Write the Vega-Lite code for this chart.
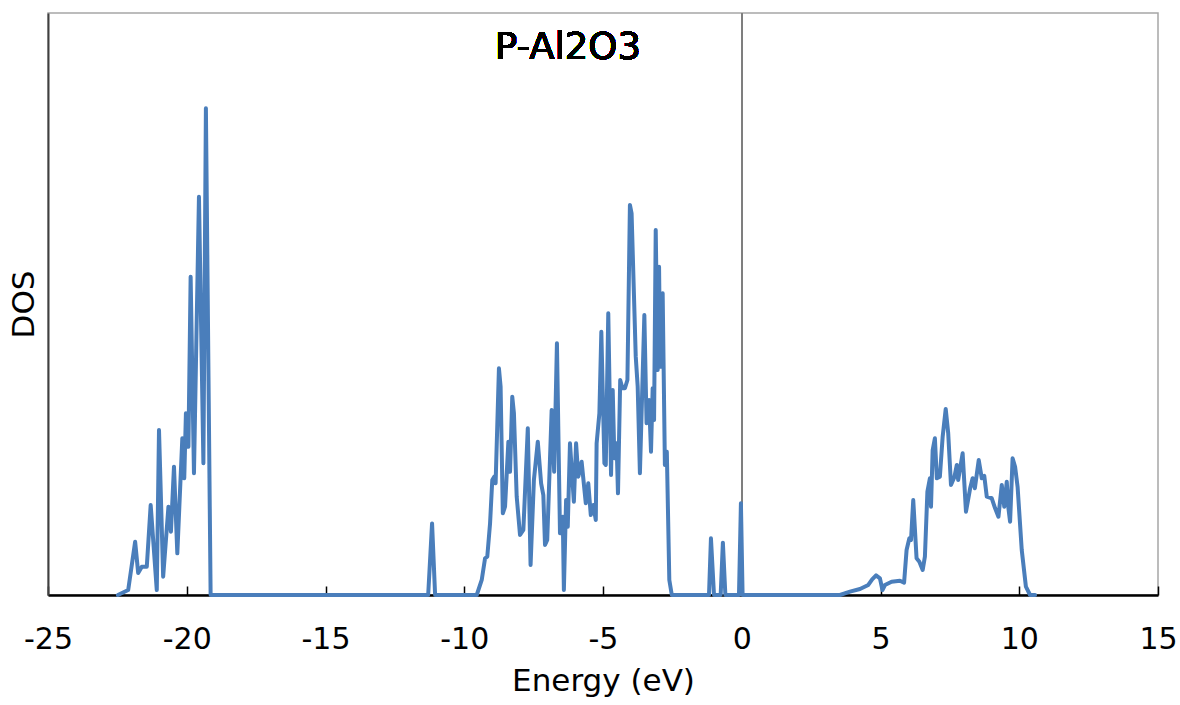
{
  "$schema": "https://vega.github.io/schema/vega-lite/v6.json",
  "width": 1110,
  "height": 582,
  "autosize": {"type": "none"},
  "padding": {"left": 48, "top": 13, "right": 22, "bottom": 110},
  "background": "white",
  "config": {
    "font": "DejaVu Sans",
    "view": {"stroke": "#a6a6a6", "strokeWidth": 1.5}
  },
  "data": {
    "values": [
      {"E": -22.48, "DOS": 0},
      {"E": -22.11, "DOS": 0.86},
      {"E": -21.86, "DOS": 9.16},
      {"E": -21.75, "DOS": 3.78},
      {"E": -21.62, "DOS": 4.86},
      {"E": -21.44, "DOS": 4.86},
      {"E": -21.30, "DOS": 15.46},
      {"E": -21.08, "DOS": 0.86},
      {"E": -21.00, "DOS": 28.35},
      {"E": -20.85, "DOS": 3.15},
      {"E": -20.66, "DOS": 15.17},
      {"E": -20.57, "DOS": 10.88},
      {"E": -20.46, "DOS": 22.05},
      {"E": -20.34, "DOS": 7.16},
      {"E": -20.16, "DOS": 26.92},
      {"E": -20.09, "DOS": 20.05},
      {"E": -20.03, "DOS": 31.22},
      {"E": -19.94, "DOS": 25.48},
      {"E": -19.86, "DOS": 54.69},
      {"E": -19.74, "DOS": 20.91},
      {"E": -19.56, "DOS": 68.44},
      {"E": -19.40, "DOS": 22.63},
      {"E": -19.31, "DOS": 83.62},
      {"E": -19.14, "DOS": 0},
      {"E": -11.30, "DOS": 0},
      {"E": -11.16, "DOS": 12.3},
      {"E": -11.05, "DOS": 0},
      {"E": -9.55, "DOS": 0},
      {"E": -9.37, "DOS": 2.58},
      {"E": -9.25, "DOS": 6.31},
      {"E": -9.17, "DOS": 6.58},
      {"E": -9.07, "DOS": 12.32},
      {"E": -8.99, "DOS": 19.76},
      {"E": -8.92, "DOS": 20.33},
      {"E": -8.87, "DOS": 19.19},
      {"E": -8.75, "DOS": 38.95},
      {"E": -8.69, "DOS": 35.79},
      {"E": -8.61, "DOS": 14.04},
      {"E": -8.53, "DOS": 15.17},
      {"E": -8.41, "DOS": 26.34},
      {"E": -8.35, "DOS": 21.19},
      {"E": -8.27, "DOS": 34.07},
      {"E": -8.21, "DOS": 31.22},
      {"E": -8.11, "DOS": 16.89},
      {"E": -7.99, "DOS": 10.31},
      {"E": -7.87, "DOS": 11.17},
      {"E": -7.71, "DOS": 28.64},
      {"E": -7.61, "DOS": 5.15},
      {"E": -7.49, "DOS": 19.76},
      {"E": -7.35, "DOS": 26.34},
      {"E": -7.23, "DOS": 19.19},
      {"E": -7.15, "DOS": 17.18},
      {"E": -7.09, "DOS": 8.59},
      {"E": -7.01, "DOS": 9.45},
      {"E": -6.85, "DOS": 31.79},
      {"E": -6.76, "DOS": 21.19},
      {"E": -6.66, "DOS": 43.25},
      {"E": -6.55, "DOS": 10.6},
      {"E": -6.45, "DOS": 13.45},
      {"E": -6.41, "DOS": 0.86},
      {"E": -6.33, "DOS": 16.32},
      {"E": -6.27, "DOS": 11.74},
      {"E": -6.19, "DOS": 26.06},
      {"E": -6.05, "DOS": 16.03},
      {"E": -5.97, "DOS": 26.06},
      {"E": -5.89, "DOS": 20.33},
      {"E": -5.77, "DOS": 22.9},
      {"E": -5.62, "DOS": 15.76},
      {"E": -5.53, "DOS": 19.19},
      {"E": -5.44, "DOS": 13.75},
      {"E": -5.35, "DOS": 15.46},
      {"E": -5.26, "DOS": 12.89},
      {"E": -5.23, "DOS": 26.06},
      {"E": -5.13, "DOS": 31.22},
      {"E": -5.06, "DOS": 45.24},
      {"E": -4.95, "DOS": 22.63},
      {"E": -4.90, "DOS": 22.34},
      {"E": -4.81, "DOS": 48.4},
      {"E": -4.71, "DOS": 20.62},
      {"E": -4.65, "DOS": 35.22},
      {"E": -4.59, "DOS": 23.49},
      {"E": -4.51, "DOS": 26.06},
      {"E": -4.46, "DOS": 17.47},
      {"E": -4.38, "DOS": 36.94},
      {"E": -4.30, "DOS": 35.52},
      {"E": -4.21, "DOS": 35.52},
      {"E": -4.12, "DOS": 36.94},
      {"E": -4.03, "DOS": 67.01},
      {"E": -3.97, "DOS": 65.58},
      {"E": -3.82, "DOS": 40.95},
      {"E": -3.75, "DOS": 35.79},
      {"E": -3.67, "DOS": 20.91},
      {"E": -3.51, "DOS": 48.11},
      {"E": -3.43, "DOS": 29.5},
      {"E": -3.34, "DOS": 33.51},
      {"E": -3.27, "DOS": 24.62},
      {"E": -3.21, "DOS": 35.52},
      {"E": -3.16, "DOS": 30.07},
      {"E": -3.10, "DOS": 62.71},
      {"E": -3.03, "DOS": 38.66},
      {"E": -2.98, "DOS": 56.41},
      {"E": -2.94, "DOS": 39.23},
      {"E": -2.85, "DOS": 51.84},
      {"E": -2.77, "DOS": 22.34},
      {"E": -2.70, "DOS": 24.62},
      {"E": -2.61, "DOS": 2.58},
      {"E": -2.52, "DOS": 0},
      {"E": -1.18, "DOS": 0},
      {"E": -1.11, "DOS": 9.74},
      {"E": -1.00, "DOS": 0},
      {"E": -0.76, "DOS": 0},
      {"E": -0.68, "DOS": 8.99},
      {"E": -0.59, "DOS": 0},
      {"E": -0.10, "DOS": 0},
      {"E": -0.03, "DOS": 15.76},
      {"E": 0.03, "DOS": 0},
      {"E": 3.54, "DOS": 0},
      {"E": 3.90, "DOS": 0.57},
      {"E": 4.26, "DOS": 1.03},
      {"E": 4.56, "DOS": 1.72},
      {"E": 4.70, "DOS": 2.7},
      {"E": 4.84, "DOS": 3.38},
      {"E": 4.98, "DOS": 2.87},
      {"E": 5.07, "DOS": 0.86},
      {"E": 5.16, "DOS": 1.72},
      {"E": 5.40, "DOS": 2.29},
      {"E": 5.70, "DOS": 2.46},
      {"E": 5.85, "DOS": 2.11},
      {"E": 5.94, "DOS": 7.73},
      {"E": 6.04, "DOS": 9.74},
      {"E": 6.10, "DOS": 9.45},
      {"E": 6.18, "DOS": 16.32},
      {"E": 6.30, "DOS": 6.31},
      {"E": 6.40, "DOS": 5.72},
      {"E": 6.52, "DOS": 4.3},
      {"E": 6.60, "DOS": 6.58},
      {"E": 6.69, "DOS": 17.75},
      {"E": 6.78, "DOS": 20.05},
      {"E": 6.82, "DOS": 15.17},
      {"E": 6.88, "DOS": 24.91},
      {"E": 6.96, "DOS": 26.92},
      {"E": 7.03, "DOS": 20.05},
      {"E": 7.14, "DOS": 20.33},
      {"E": 7.24, "DOS": 27.2},
      {"E": 7.35, "DOS": 31.96},
      {"E": 7.44, "DOS": 27.78},
      {"E": 7.54, "DOS": 18.9},
      {"E": 7.66, "DOS": 20.22},
      {"E": 7.75, "DOS": 22.34},
      {"E": 7.80, "DOS": 19.76},
      {"E": 7.96, "DOS": 24.35},
      {"E": 8.08, "DOS": 14.31},
      {"E": 8.23, "DOS": 18.33},
      {"E": 8.32, "DOS": 20.05},
      {"E": 8.40, "DOS": 18.33},
      {"E": 8.54, "DOS": 23.2},
      {"E": 8.65, "DOS": 20.05},
      {"E": 8.74, "DOS": 20.45},
      {"E": 8.83, "DOS": 16.89},
      {"E": 9.01, "DOS": 16.62},
      {"E": 9.13, "DOS": 14.9},
      {"E": 9.25, "DOS": 13.45},
      {"E": 9.37, "DOS": 18.9},
      {"E": 9.46, "DOS": 15.17},
      {"E": 9.55, "DOS": 19.47},
      {"E": 9.61, "DOS": 14.9},
      {"E": 9.67, "DOS": 12.59},
      {"E": 9.76, "DOS": 23.49},
      {"E": 9.85, "DOS": 22.04},
      {"E": 9.94, "DOS": 18.61},
      {"E": 10.09, "DOS": 7.73},
      {"E": 10.24, "DOS": 1.43},
      {"E": 10.39, "DOS": 0},
      {"E": 10.57, "DOS": 0}
    ]
  },
  "layer": [
    {
      "mark": {"type": "rule", "color": "#7f7f7f", "strokeWidth": 1.5},
      "encoding": {"x": {"datum": 0, "type": "quantitative"}}
    },
    {
      "mark": {"type": "line", "color": "#4a7ebb", "strokeWidth": 4, "strokeJoin": "round", "strokeCap": "round"},
      "encoding": {
        "x": {
          "field": "E",
          "type": "quantitative",
          "scale": {"domain": [-25, 15], "nice": false, "zero": false},
          "axis": {
            "title": "Energy (eV)",
            "values": [-25, -20, -15, -10, -5, 0, 5, 10, 15],
            "labelExpr": "datum.value < 0 ? '-' + abs(datum.value) : '' + datum.value",
            "grid": false,
            "domainColor": "#000000",
            "domainWidth": 2.5,
            "tickColor": "#000000",
            "tickWidth": 1.5,
            "tickSize": -9,
            "labelPadding": 38,
            "labelFontSize": 30,
            "labelColor": "#000000",
            "labelFont": "DejaVu Sans",
            "labelFlush": false,
            "titleFontSize": 31,
            "titleFontWeight": "normal",
            "titleColor": "#000000",
            "titleFont": "DejaVu Sans",
            "titlePadding": 12
          }
        },
        "y": {
          "field": "DOS",
          "type": "quantitative",
          "scale": {"domain": [0, 100], "nice": false},
          "axis": {
            "title": "DOS",
            "labels": false,
            "ticks": false,
            "grid": false,
            "domainColor": "#404040",
            "domainWidth": 2,
            "titleFontSize": 31,
            "titleFontWeight": "normal",
            "titleColor": "#000000",
            "titleFont": "DejaVu Sans",
            "titlePadding": 8
          }
        }
      }
    },
    {
      "mark": {"type": "text", "text": "P-Al2O3", "fontSize": 37, "fontWeight": "normal", "font": "DejaVu Sans", "color": "#000000", "align": "center", "baseline": "middle"},
      "encoding": {
        "x": {"datum": -6.26, "type": "quantitative"},
        "y": {"datum": 94.0, "type": "quantitative"}
      }
    }
  ]
}
